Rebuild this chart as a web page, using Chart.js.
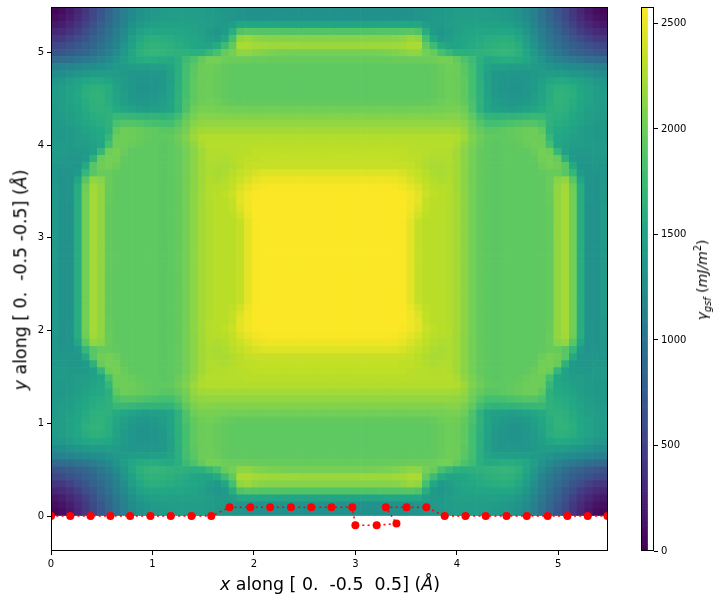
<!DOCTYPE html>
<html>
<head>
<meta charset="utf-8">
<script src="https://cdn.jsdelivr.net/npm/chart.js@4"></script>
<style>
  body { margin: 0; background: #fff; font-family: "DejaVu Sans", sans-serif; color: #000; }
  canvas { position: absolute; left: 0; top: 0; }
  .label { position: absolute; white-space: pre; line-height: 1; }
  .label i { font-style: italic; }
  .label sub { font-size: 70%; font-style: italic; line-height: 0; }
  .label sup { font-size: 70%; line-height: 0; }
  #xLabel { left: 330px; top: 576px; font-size: 17.4px; transform: translateX(-50%); }
  #yLabel { left: 21px; top: 280px; font-size: 17.4px; transform: translate(-50%, -50%) rotate(-90deg); }
  #cLabel { left: 702px; top: 280px; font-size: 14px; transform: translate(-50%, -50%) rotate(-90deg); }
</style>
</head>
<body>
<canvas id="mainChart" width="720" height="605"></canvas>
<canvas id="barChart" width="720" height="605"></canvas>
<div class="label" id="xLabel"><i>x</i> along [ 0.  -0.5  0.5] (<i>Å</i>)</div>
<div class="label" id="yLabel"><i>y</i> along [ 0.  -0.5 -0.5] (<i>Å</i>)</div>
<div class="label" id="cLabel"><i>γ</i><sub>gsf</sub> (<i>mJ/m</i><sup>2</sup>)</div>
<script>
// gsf energy, mJ/m^2, upper left quarter of the map. first row is the top edge, last row is the middle
const gsfQuarter = [
[40,90,170,270,400,540,680,830,970,1100,1210,1290,1340,1370,1400,1410,1420,1420,1420,1420,1400,1380,1360,1340,1320,1300,1290,1290,1290,1290,1290,1290,1290,1290,1290,1290],
[90,130,210,310,430,570,710,850,990,1120,1230,1310,1360,1390,1410,1420,1430,1430,1430,1430,1410,1390,1370,1350,1330,1310,1300,1300,1300,1300,1300,1300,1300,1300,1300,1300],
[170,210,290,380,500,630,770,900,1030,1170,1290,1370,1420,1450,1470,1470,1470,1470,1470,1460,1430,1400,1390,1430,1520,1540,1530,1520,1520,1510,1500,1500,1500,1500,1500,1500],
[270,310,380,470,590,710,840,960,1090,1230,1360,1470,1520,1540,1540,1530,1520,1510,1490,1460,1400,1350,1400,1600,1860,1900,1890,1880,1880,1880,1870,1870,1870,1870,1870,1870],
[400,430,500,590,690,790,900,1000,1120,1270,1420,1550,1610,1620,1610,1590,1570,1550,1520,1480,1420,1400,1520,1800,2150,2180,2130,2110,2100,2100,2100,2100,2100,2100,2100,2100],
[540,570,630,700,780,860,960,1050,1170,1320,1470,1600,1650,1660,1650,1630,1600,1570,1530,1510,1500,1580,1750,1950,2240,2250,2210,2200,2190,2190,2190,2190,2180,2180,2180,2180],
[660,700,740,790,850,930,1020,1120,1240,1380,1520,1640,1680,1690,1680,1660,1650,1640,1620,1630,1720,1820,1970,2030,2130,2140,2100,2080,2060,2050,2040,2040,2040,2040,2040,2040],
[900,920,950,1000,1040,1090,1150,1220,1320,1420,1520,1580,1590,1590,1580,1560,1620,1760,1850,1960,2030,2030,2000,1990,1990,1990,1980,1980,1970,1970,1970,1970,1970,1970,1970,1970],
[1120,1140,1170,1200,1230,1260,1280,1320,1380,1400,1420,1430,1440,1450,1460,1500,1620,1790,1900,1990,2010,1980,1950,1940,1940,1940,1940,1940,1940,1940,1940,1940,1940,1940,1940,1940],
[1240,1260,1300,1340,1380,1410,1410,1420,1410,1380,1350,1340,1340,1350,1380,1470,1620,1800,1920,1990,2000,1970,1950,1940,1930,1930,1930,1930,1930,1930,1930,1930,1930,1930,1930,1930],
[1340,1370,1430,1480,1530,1560,1560,1530,1450,1390,1340,1320,1320,1330,1370,1470,1630,1800,1930,1990,2000,1970,1950,1930,1930,1930,1930,1930,1930,1930,1930,1930,1930,1930,1930,1930],
[1400,1430,1480,1540,1600,1640,1640,1590,1490,1400,1340,1310,1310,1330,1370,1480,1640,1800,1930,1990,2000,1970,1950,1930,1930,1930,1930,1930,1930,1930,1930,1930,1930,1930,1930,1930],
[1410,1440,1490,1550,1620,1660,1660,1600,1500,1420,1360,1330,1320,1340,1390,1490,1650,1810,1930,1990,2000,1970,1950,1930,1930,1930,1930,1930,1930,1930,1930,1930,1930,1930,1930,1930],
[1410,1430,1480,1530,1600,1650,1660,1610,1520,1450,1400,1370,1370,1390,1430,1500,1660,1830,1950,2010,2020,2000,1970,1960,1950,1950,1950,1950,1950,1950,1950,1950,1950,1950,1950,1950],
[1400,1420,1460,1510,1570,1630,1650,1630,1570,1520,1480,1450,1420,1450,1470,1500,1650,1850,2000,2050,2050,2040,2030,2020,2020,2020,2020,2020,2020,2020,2020,2020,2020,2020,2020,2020],
[1400,1410,1440,1490,1550,1600,1620,1650,1720,1720,1700,1680,1670,1670,1660,1680,1780,1940,2050,2100,2100,2090,2090,2090,2090,2090,2090,2090,2090,2090,2090,2090,2090,2090,2090,2090],
[1380,1390,1420,1470,1530,1570,1600,1650,1830,1880,1880,1860,1840,1820,1800,1800,1880,2000,2110,2150,2160,2160,2160,2160,2160,2160,2160,2160,2160,2160,2160,2160,2160,2160,2160,2160],
[1370,1380,1400,1440,1490,1530,1560,1640,1930,2000,1990,1970,1950,1930,1910,1910,1960,2040,2160,2210,2220,2220,2220,2220,2220,2220,2220,2220,2220,2220,2220,2220,2220,2220,2220,2220],
[1380,1380,1400,1430,1460,1500,1550,1700,1990,2010,2000,1970,1950,1940,1930,1950,2010,2080,2190,2270,2280,2280,2280,2280,2280,2280,2280,2280,2280,2280,2280,2280,2280,2280,2280,2280],
[1390,1390,1400,1420,1440,1470,1540,1800,2000,2000,1980,1950,1940,1930,1920,1930,1980,2060,2150,2240,2290,2290,2290,2290,2290,2300,2300,2300,2300,2300,2300,2300,2300,2300,2300,2300],
[1390,1390,1380,1380,1400,1470,1700,2000,2040,1980,1940,1930,1930,1930,1920,1930,1960,2030,2120,2210,2270,2280,2280,2290,2300,2310,2320,2320,2320,2320,2320,2320,2320,2320,2320,2320],
[1380,1370,1360,1360,1400,1650,1980,2030,2020,1950,1930,1930,1930,1930,1920,1930,1960,2030,2120,2210,2270,2270,2260,2280,2310,2320,2330,2340,2340,2340,2340,2340,2340,2340,2340,2340],
[1360,1340,1340,1350,1560,1900,2010,2030,1990,1940,1930,1930,1930,1930,1920,1930,1960,2030,2120,2210,2260,2250,2240,2270,2310,2340,2360,2360,2360,2360,2360,2360,2360,2360,2360,2360],
[1350,1320,1320,1400,1700,1900,1970,1970,1950,1930,1930,1930,1930,1930,1920,1930,1960,2030,2120,2210,2260,2240,2260,2300,2340,2380,2420,2450,2450,2450,2450,2450,2450,2450,2450,2450],
[1360,1310,1320,1520,1900,2150,2110,1980,1940,1930,1930,1930,1930,1930,1920,1930,1960,2030,2120,2210,2270,2260,2280,2320,2370,2430,2480,2510,2520,2520,2520,2520,2520,2520,2520,2520],
[1370,1310,1320,1590,2000,2210,2150,1980,1940,1930,1930,1930,1930,1930,1920,1930,1960,2030,2120,2210,2280,2290,2300,2350,2430,2490,2530,2550,2560,2560,2560,2560,2560,2560,2560,2560],
[1380,1310,1320,1600,2020,2220,2150,1970,1940,1930,1930,1930,1930,1930,1920,1930,1960,2030,2130,2220,2280,2310,2320,2370,2470,2530,2560,2570,2570,2570,2570,2570,2570,2570,2570,2570],
[1380,1300,1320,1600,2020,2220,2150,1970,1940,1930,1930,1930,1930,1930,1920,1930,1960,2030,2130,2220,2280,2300,2310,2350,2470,2530,2570,2570,2570,2570,2570,2570,2570,2570,2570,2570],
[1390,1300,1310,1600,2020,2220,2150,1960,1940,1930,1930,1930,1930,1930,1920,1930,1960,2030,2130,2220,2270,2300,2310,2340,2440,2530,2570,2570,2570,2570,2570,2570,2570,2570,2570,2570],
[1390,1300,1310,1600,2020,2220,2150,1960,1940,1930,1930,1930,1930,1930,1920,1930,1960,2030,2130,2220,2270,2300,2300,2320,2400,2500,2570,2570,2570,2570,2570,2570,2570,2570,2570,2570],
[1390,1300,1310,1600,2020,2220,2150,1960,1940,1930,1930,1930,1930,1930,1920,1930,1960,2030,2130,2220,2270,2300,2300,2310,2350,2470,2560,2570,2570,2570,2570,2570,2570,2570,2570,2570],
[1390,1300,1310,1600,2020,2220,2150,1960,1940,1930,1930,1930,1930,1930,1920,1930,1960,2030,2130,2220,2270,2300,2300,2310,2350,2470,2560,2570,2570,2570,2570,2570,2570,2570,2570,2570],
[1390,1300,1310,1600,2020,2220,2150,1960,1940,1930,1930,1930,1930,1930,1920,1930,1960,2030,2130,2220,2270,2300,2300,2310,2350,2470,2560,2570,2570,2570,2570,2570,2570,2570,2570,2570],
[1390,1300,1310,1600,2020,2220,2150,1960,1940,1930,1930,1930,1930,1930,1920,1930,1960,2030,2130,2220,2270,2300,2300,2310,2350,2470,2560,2570,2570,2570,2570,2570,2570,2570,2570,2570],
[1390,1300,1310,1600,2020,2220,2150,1960,1940,1930,1930,1930,1930,1930,1920,1930,1960,2030,2130,2220,2270,2300,2300,2310,2350,2470,2560,2570,2570,2570,2570,2570,2570,2570,2570,2570],
[1390,1300,1310,1600,2020,2220,2150,1960,1940,1930,1930,1930,1930,1930,1920,1930,1960,2030,2130,2220,2270,2300,2300,2310,2350,2470,2560,2570,2570,2570,2570,2570,2570,2570,2570,2570]
];

const pathX = [0,0.19,0.39,0.585,0.78,0.98,1.18,1.385,1.58,1.76,1.965,2.16,2.365,2.565,2.765,2.97,3.0,3.21,3.405,3.30,3.505,3.70,3.88,4.085,4.285,4.49,4.69,4.895,5.09,5.29,5.485];
const pathY = [0,0,0,0,0,0,0,0,0,0.095,0.095,0.095,0.095,0.095,0.095,0.095,-0.1,-0.1,-0.08,0.095,0.095,0.095,0,0,0,0,0,0,0,0,0];

const xTicks = [0,1,2,3,4,5];
const yTicks = [0,1,2,3,4,5];
const barTicks = [0,500,1000,1500,2000,2500];

const mapSize = 5.49;
const yBottom = -0.377;
const gsfMax = 2578;

const viridis = ['#440154','#482475','#414487','#355f8d','#2a788e','#21918c','#22a884','#44bf70','#7ad151','#bddf26','#fde725'];

function gsfColor(v) {
  const t = Math.min(Math.max(v / gsfMax, 0), 1) * (viridis.length - 1);
  const i = Math.min(Math.floor(t), viridis.length - 2);
  const f = t - i;
  const a = viridis[i], b = viridis[i + 1];
  const c = [1, 3, 5].map(p => {
    const p0 = parseInt(a.substr(p, 2), 16), p1 = parseInt(b.substr(p, 2), 16);
    return Math.round(p0 + (p1 - p0) * f);
  });
  return `rgb(${c[0]},${c[1]},${c[2]})`;
}

// the map has the same four corners, so the quarter is flipped both ways
const gsfRows = gsfQuarter.concat([...gsfQuarter].reverse()).map(r => r.concat([...r].reverse()));
const cell = mapSize / gsfRows.length;
const cells = [];
gsfRows.forEach((row, r) => {
  row.forEach((v, c) => {
    const top = mapSize - r * cell;
    cells.push({ x: (c + 0.5) * cell, y: [top - cell, top], v: v });
  });
});

const boxPlugin = {
  id: 'box',
  afterDraw(chart) {
    const a = chart.chartArea, ctx = chart.ctx;
    ctx.save();
    ctx.strokeStyle = '#000';
    ctx.lineWidth = 1;
    ctx.strokeRect(a.left + 0.5, a.top + 0.5, a.width - 1, a.height - 1);
    ctx.restore();
  }
};

function tickAxis(ticks, size, opts) {
  return Object.assign({
    type: 'linear',
    offset: false,
    afterBuildTicks: s => { s.ticks = ticks.map(v => ({ value: v })); },
    afterFit: s => {
      if (s.isHorizontal()) s.height = size; else s.width = size;
      s.paddingLeft = s.paddingRight = s.paddingTop = s.paddingBottom = 0;
    },
    grid: { offset: false, drawOnChartArea: false, drawTicks: true, tickLength: 4, tickColor: '#000', tickWidth: 1 },
    border: { display: false },
    ticks: { color: '#000', font: { family: 'DejaVu Sans', size: 10 }, maxRotation: 0, padding: 3, callback: v => String(v) }
  }, opts);
}

new Chart(document.getElementById('mainChart'), {
  data: {
    datasets: [
      {
        type: 'line',
        data: pathX.map((x, i) => ({ x: x, y: pathY[i] })),
        borderColor: '#ff0000',
        borderWidth: 1.5,
        borderDash: [2, 3.3],
        backgroundColor: '#ff0000',
        pointRadius: 4,
        pointBorderWidth: 0,
        tension: 0,
        order: 0
      },
      {
        type: 'bar',
        data: cells,
        backgroundColor: cells.map(c => gsfColor(c.v)),
        borderWidth: 0,
        barPercentage: 1,
        categoryPercentage: 1,
        grouped: false,
        order: 1
      }
    ]
  },
  options: {
    responsive: false,
    animation: false,
    layout: { padding: { left: 0, top: 7, right: 112, bottom: 0 } },
    plugins: { legend: { display: false }, tooltip: { enabled: false } },
    scales: {
      x: tickAxis(xTicks, 54, { min: 0, max: mapSize }),
      y: tickAxis(yTicks, 51, { min: yBottom, max: mapSize })
    }
  },
  plugins: [boxPlugin]
});

// colour bar, one thin floating bar per level
const levels = [];
for (let i = 0; i < 256; i++) levels.push(i * gsfMax / 256);
const step = gsfMax / 256;

new Chart(document.getElementById('barChart'), {
  type: 'bar',
  data: {
    labels: ['gsf'],
    datasets: [{
      data: levels.map(v => ({ x: 'gsf', y: [v, v + step] })),
      backgroundColor: levels.map(v => gsfColor(v + step / 2)),
      borderWidth: 0,
      barPercentage: 1,
      categoryPercentage: 1,
      grouped: false
    }]
  },
  options: {
    responsive: false,
    animation: false,
    layout: { padding: { left: 641, top: 7, right: 0, bottom: 54 } },
    plugins: { legend: { display: false }, tooltip: { enabled: false } },
    scales: {
      x: { display: false, offset: false },
      y: tickAxis(barTicks, 66, { position: 'right', min: 0, max: gsfMax })
    }
  },
  plugins: [boxPlugin]
});
</script>
</body>
</html>
